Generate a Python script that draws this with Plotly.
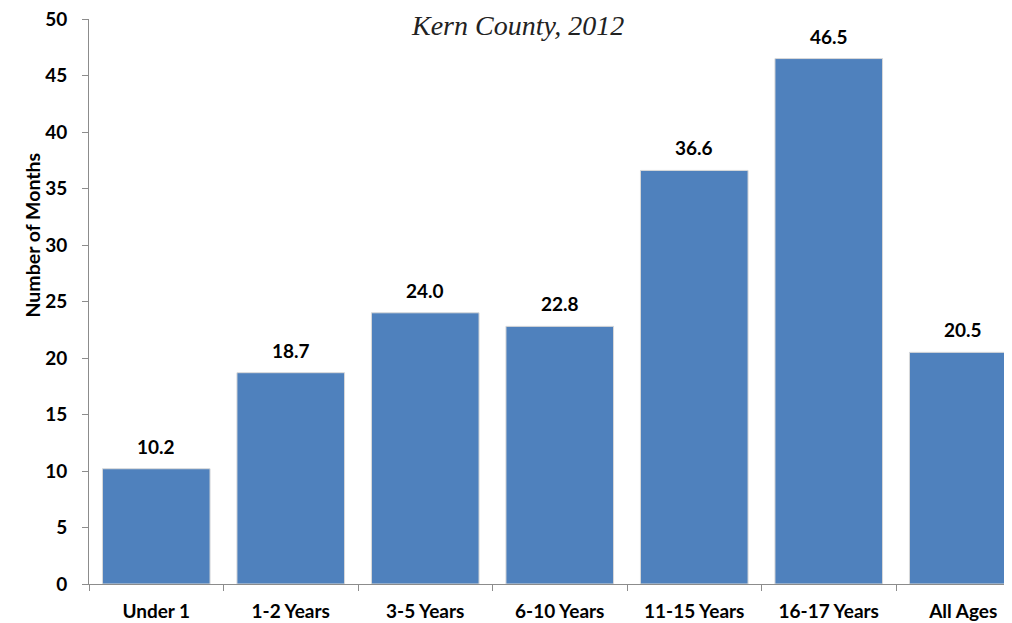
import plotly.graph_objects as go

categories = ["Under 1", "1-2 Years", "3-5 Years", "6-10 Years", "11-15 Years", "16-17 Years", "All Ages"]
values = [10.2, 18.7, 24.0, 22.8, 36.6, 46.5, 20.5]
y_ticks = [0, 5, 10, 15, 20, 25, 30, 35, 40, 45, 50]

FONT = "Lato"
BAR = "#4F81BD"
AX = "#8C8C8C"

W, H = 1004, 615
L, T, B = 81, 11, 39
plot_w = W - L
plot_h = H - T - B
cat_w = 134.5

fig = go.Figure()
fig.add_trace(go.Bar(
    x=categories, y=values,
    marker=dict(color=BAR, line=dict(color="#D9D9D9", width=1)),
    hoverinfo="skip",
))

for c, v in zip(categories, values):
    fig.add_annotation(x=c, y=v, text=f"<b>{v:.1f}</b>", showarrow=False,
                       yanchor="bottom", yshift=9,
                       font=dict(family=FONT, size=19, color="#000"))

fig.add_annotation(xref="paper", yref="paper", x=(10 - L) / plot_w, y=(H - B - 227) / plot_h,
                   text="<b>Number of Months</b>", textangle=-90, showarrow=False,
                   font=dict(family=FONT, size=19.5, color="#000"))

fig.add_annotation(xref="paper", yref="paper", x=(509 - L) / plot_w, y=1 + T / plot_h,
                   yanchor="top",
                   text="<i>Kern County, 2012</i>", showarrow=False,
                   font=dict(family="Liberation Serif", size=28, color="#222"))

fig.update_layout(
    width=W, height=H,
    margin=dict(l=L, r=0, t=T, b=B),
    plot_bgcolor="white", paper_bgcolor="white",
    bargap=0.2, showlegend=False,
    xaxis=dict(
        type="category",
        range=[-0.5, -0.5 + plot_w / cat_w],
        showline=True, linecolor=AX, linewidth=1,
        ticks="outside", tickson="boundaries", ticklen=6, tickcolor=AX,
        tickfont=dict(family=FONT, size=19, color="#000", weight="bold"),
        ticklabelstandoff=10,
        showgrid=False,
    ),
    yaxis=dict(
        range=[0, 50], tickvals=y_ticks,
        showline=True, linecolor=AX, linewidth=1,
        ticks="outside", ticklen=6, tickcolor=AX,
        tickfont=dict(family=FONT, size=19, color="#000", weight="bold"),
        ticklabelstandoff=11, ticklabeloverflow="allow",
        showgrid=False, zeroline=False,
    ),
)

fig.write_html("out.html")
